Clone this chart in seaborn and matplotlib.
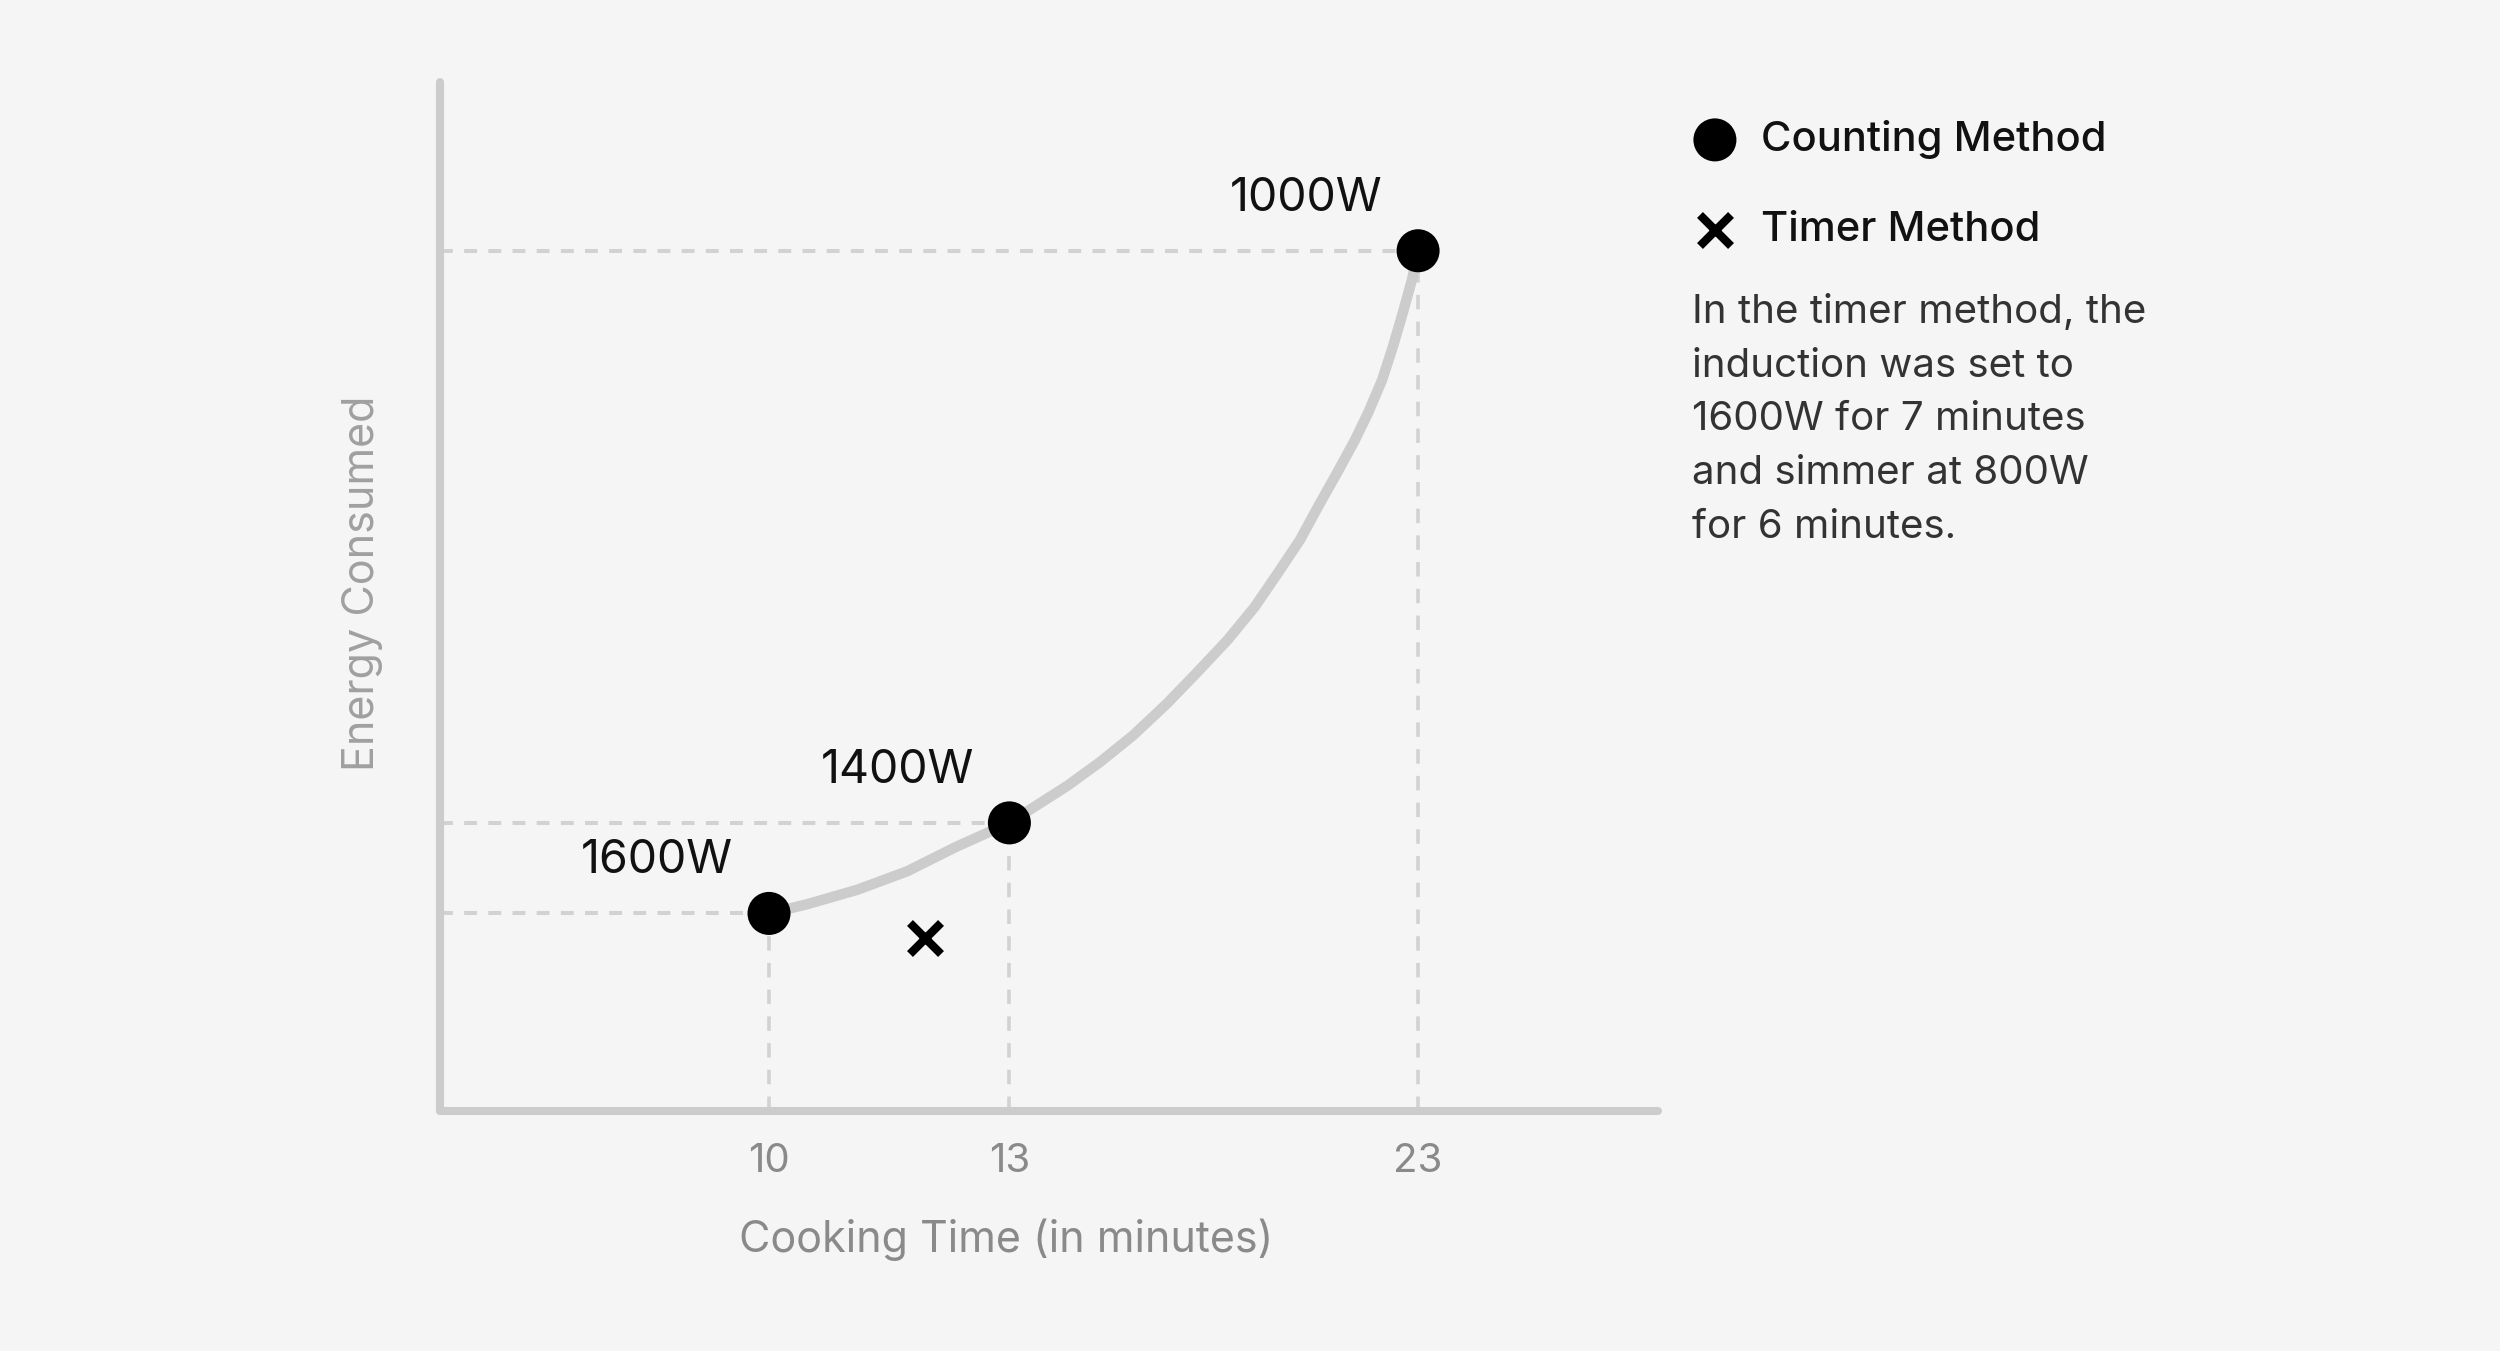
import matplotlib

matplotlib.use("Agg")

import matplotlib.pyplot as plt
import numpy as np
import seaborn as sns
from matplotlib.markers import MarkerStyle

# counting method: power level -> cooking time / energy (energy axis has no scale, arbitrary units)
cooking_time = [10, 13, 23]
energy = [19.2, 28.0, 83.6]
power_labels = ["1600W", "1400W", "1000W"]

# timer method (single run)
timer_time = [11.8]
timer_energy = [16.8]

# trend curve through the counting-method points
curve_time = [10.0, 10.40, 10.96, 11.57, 12.23, 13.0, 13.94, 14.52, 15.15, 15.84,
              16.49, 17.21, 17.88, 18.49, 19.10, 19.62, 20.20, 20.77, 21.20,
              21.68, 22.07, 22.43, 22.77, 23.0]
curve_energy = [19.2, 20.1, 21.5, 23.3, 25.7, 28.0, 31.6, 33.9, 36.5, 39.6,
                42.6, 45.8, 49.0, 52.3, 55.5, 58.7, 62.0, 65.2, 67.8,
                71.0, 74.3, 77.6, 80.8, 83.6]

note = ("In the timer method, the\ninduction was set to\n1600W for 7 minutes\n"
        "and simmer at 800W\nfor 6 minutes.")

BG = "#f5f5f5"
GRID = "#d2d2d2"
AXIS = "#cccccc"

sns.set_theme(style="white")
plt.rcParams["font.family"] = ["Inter", "DejaVu Sans"]


def fwd(x):
    return -np.power(np.clip(x, 1e-6, None), -0.6)


def inv(y):
    return np.power(np.clip(-y, 1e-6, None), -1 / 0.6)


fig = plt.figure(figsize=(25, 13.51), dpi=100, facecolor=BG)
ax = fig.add_axes([440 / 2500, 1 - 1111 / 1351, (1658 - 440) / 2500, (1111 - 82) / 1351])
ax.set_facecolor(BG)
ax.set_xscale("function", functions=(fwd, inv))
ax.set_xlim(7.386, 36.31)
ax.set_ylim(0, 100)

# dashed guides from the axes to each point
x0 = ax.get_xlim()[0]
ax.hlines(energy, x0, cooking_time, colors=GRID, linewidth=2.9,
          linestyles=(0, (3.2, 2.8)), zorder=1)
ax.vlines(cooking_time, 0, energy, colors=GRID, linewidth=2.6,
          linestyles=(0, (4.0, 3.4)), zorder=1)

sns.lineplot(x=curve_time, y=curve_energy, sort=False, ax=ax, color="#cccccc",
             linewidth=7.5, solid_capstyle="round", solid_joinstyle="round", zorder=2)

sns.scatterplot(x=cooking_time, y=energy, ax=ax, color="black", s=960,
                edgecolor="none", zorder=3, label="Counting Method")
sns.scatterplot(x=timer_time, y=timer_energy, ax=ax, color="black",
                marker=MarkerStyle("x", capstyle="round"), s=500, linewidth=6,
                zorder=3, label="Timer Method")

for t, e, lab in zip(cooking_time, energy, power_labels):
    ax.annotate(lab, (t, e), xytext=(-80.5, 37.5), textcoords="offset points",
                ha="center", va="center", fontsize=33.5, color="#111111")

for side in ["top", "right"]:
    ax.spines[side].set_visible(False)
for side in ["left", "bottom"]:
    ax.spines[side].set_color(AXIS)
    ax.spines[side].set_linewidth(5.8)
    ax.spines[side].set_capstyle("round")

ax.set_xticks(cooking_time)
ax.set_xticklabels([str(t) for t in cooking_time])
ax.xaxis.set_minor_locator(matplotlib.ticker.NullLocator())
ax.set_yticks([])
ax.tick_params(axis="x", length=0, pad=23, labelsize=29, labelcolor="#8a8a8a")
ax.set_xlabel("Cooking Time (in minutes)", fontsize=31, color="#8a8a8a", va="center")
ax.xaxis.set_label_coords(0.4647, -0.1253)
ax.set_ylabel("Energy Consumed", fontsize=31, color="#a0a0a0", va="center")
ax.yaxis.set_label_coords(-0.064, 0.513)

leg = ax.legend(loc="upper left", bbox_to_anchor=(1667 / 2500, 1 - 99 / 1351),
                bbox_transform=fig.transFigure, frameon=False, fontsize=30,
                handletextpad=0.45, labelspacing=1.26, borderpad=0, handlelength=1.3,
                markerscale=1.0)
for txt in leg.get_texts():
    txt.set_color("#111111")
    txt.set_fontweight("medium")

fig.text(1692 / 2500, 1 - 294 / 1351, note, ha="left", va="top", fontsize=29,
         color="#333333", linespacing=1.575)

fig.savefig("out.png", dpi=100, facecolor=BG)
